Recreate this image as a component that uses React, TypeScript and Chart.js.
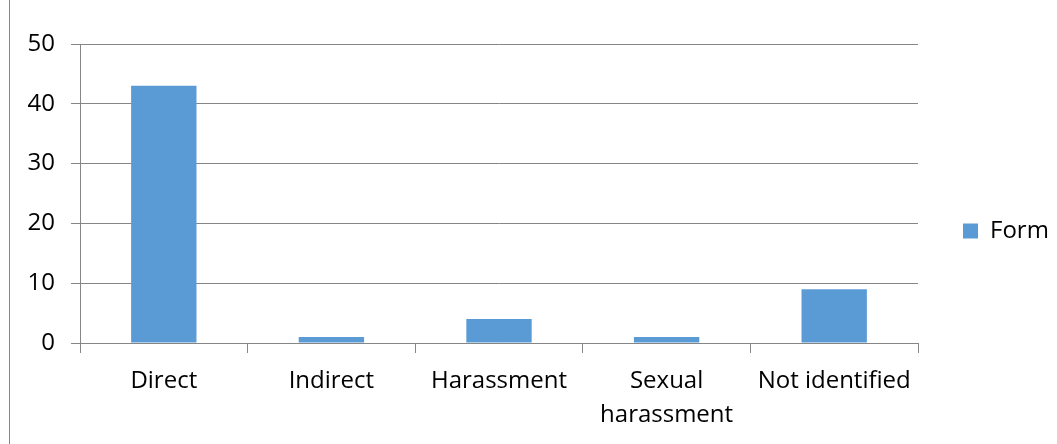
import React, { useEffect, useRef } from "react";
import { Chart, registerables } from "chart.js";

Chart.register(...registerables);

const categories: (string | string[])[] = ["Direct", "Indirect", "Harassment", ["Sexual", "harassment"], "Not identified"];
const seriesName = "Form";
const values = [43, 1, 4, 1, 9];
const yTicks = [0, 10, 20, 30, 40, 50];

const legendPlacer = {
  id: "legendPlacer",
  afterInit(chart: any) {
    const lg = chart.legend;
    if (!lg) return;
    const orig = lg.fit.bind(lg);
    lg.fit = function () {
      orig();
      this.width = 139;
    };
  },
  afterLayout(chart: any) {
    const lg = chart.legend;
    if (!lg) return;
    lg.top = 18;
    lg.bottom = 444;
    lg.height = 426;
  },
};

export default function App() {
  const ref = useRef<HTMLCanvasElement | null>(null);
  useEffect(() => {
    if (!ref.current) return;
    const font = { family: "'Open Sans', sans-serif", size: 24, lineHeight: 1.38 };
    const chart = new Chart(ref.current, {
      type: "bar",
      data: {
        labels: categories,
        datasets: [
          {
            label: seriesName,
            data: values,
            backgroundColor: "#5B9BD5",
            borderWidth: 0,
            categoryPercentage: 1,
            barPercentage: 0.39,
          },
        ],
      },
      plugins: [legendPlacer],
      options: {
        responsive: false,
        animation: false,
        devicePixelRatio: 1,
        layout: { padding: { top: 44, bottom: 0, left: 0, right: 0 } },
        plugins: {
          tooltip: { enabled: false },
          legend: {
            position: "right",
            labels: {
              boxWidth: 15,
              boxHeight: 15,
              color: "#000",
              font: { family: "'Open Sans', sans-serif", size: 24 },
              padding: 45,
            },
          },
        },
        scales: {
          x: {
            afterFit: (s: any) => { s.height = 101; },
            grid: { drawOnChartArea: false, drawTicks: true, tickLength: 10, color: "#868686", offset: true },
            border: { color: "#868686", width: 1 },
            ticks: { color: "#000", font, padding: 12, maxRotation: 0, autoSkip: false },
          },
          y: {
            min: 0,
            max: 50,
            afterFit: (s: any) => { s.width = 80; },
            afterBuildTicks: (s: any) => { s.ticks = yTicks.map((v) => ({ value: v })); },
            grid: { color: "#868686", tickLength: 9 },
            border: { color: "#868686", width: 1 },
            ticks: { color: "#000", font, padding: 16, stepSize: 10 },
          },
        },
      },
    });
    return () => chart.destroy();
  }, []);
  return (
    <div style={{ position: "fixed", left: 0, top: 0, width: 1057, height: 444, background: "#fff" }}>
      <div style={{ position: "absolute", left: 9, top: 0, width: 1, height: 444, background: "#868686" }} />
      <canvas ref={ref} width={1057} height={444} style={{ position: "absolute", left: 0, top: 0 }} />
    </div>
  );
}
